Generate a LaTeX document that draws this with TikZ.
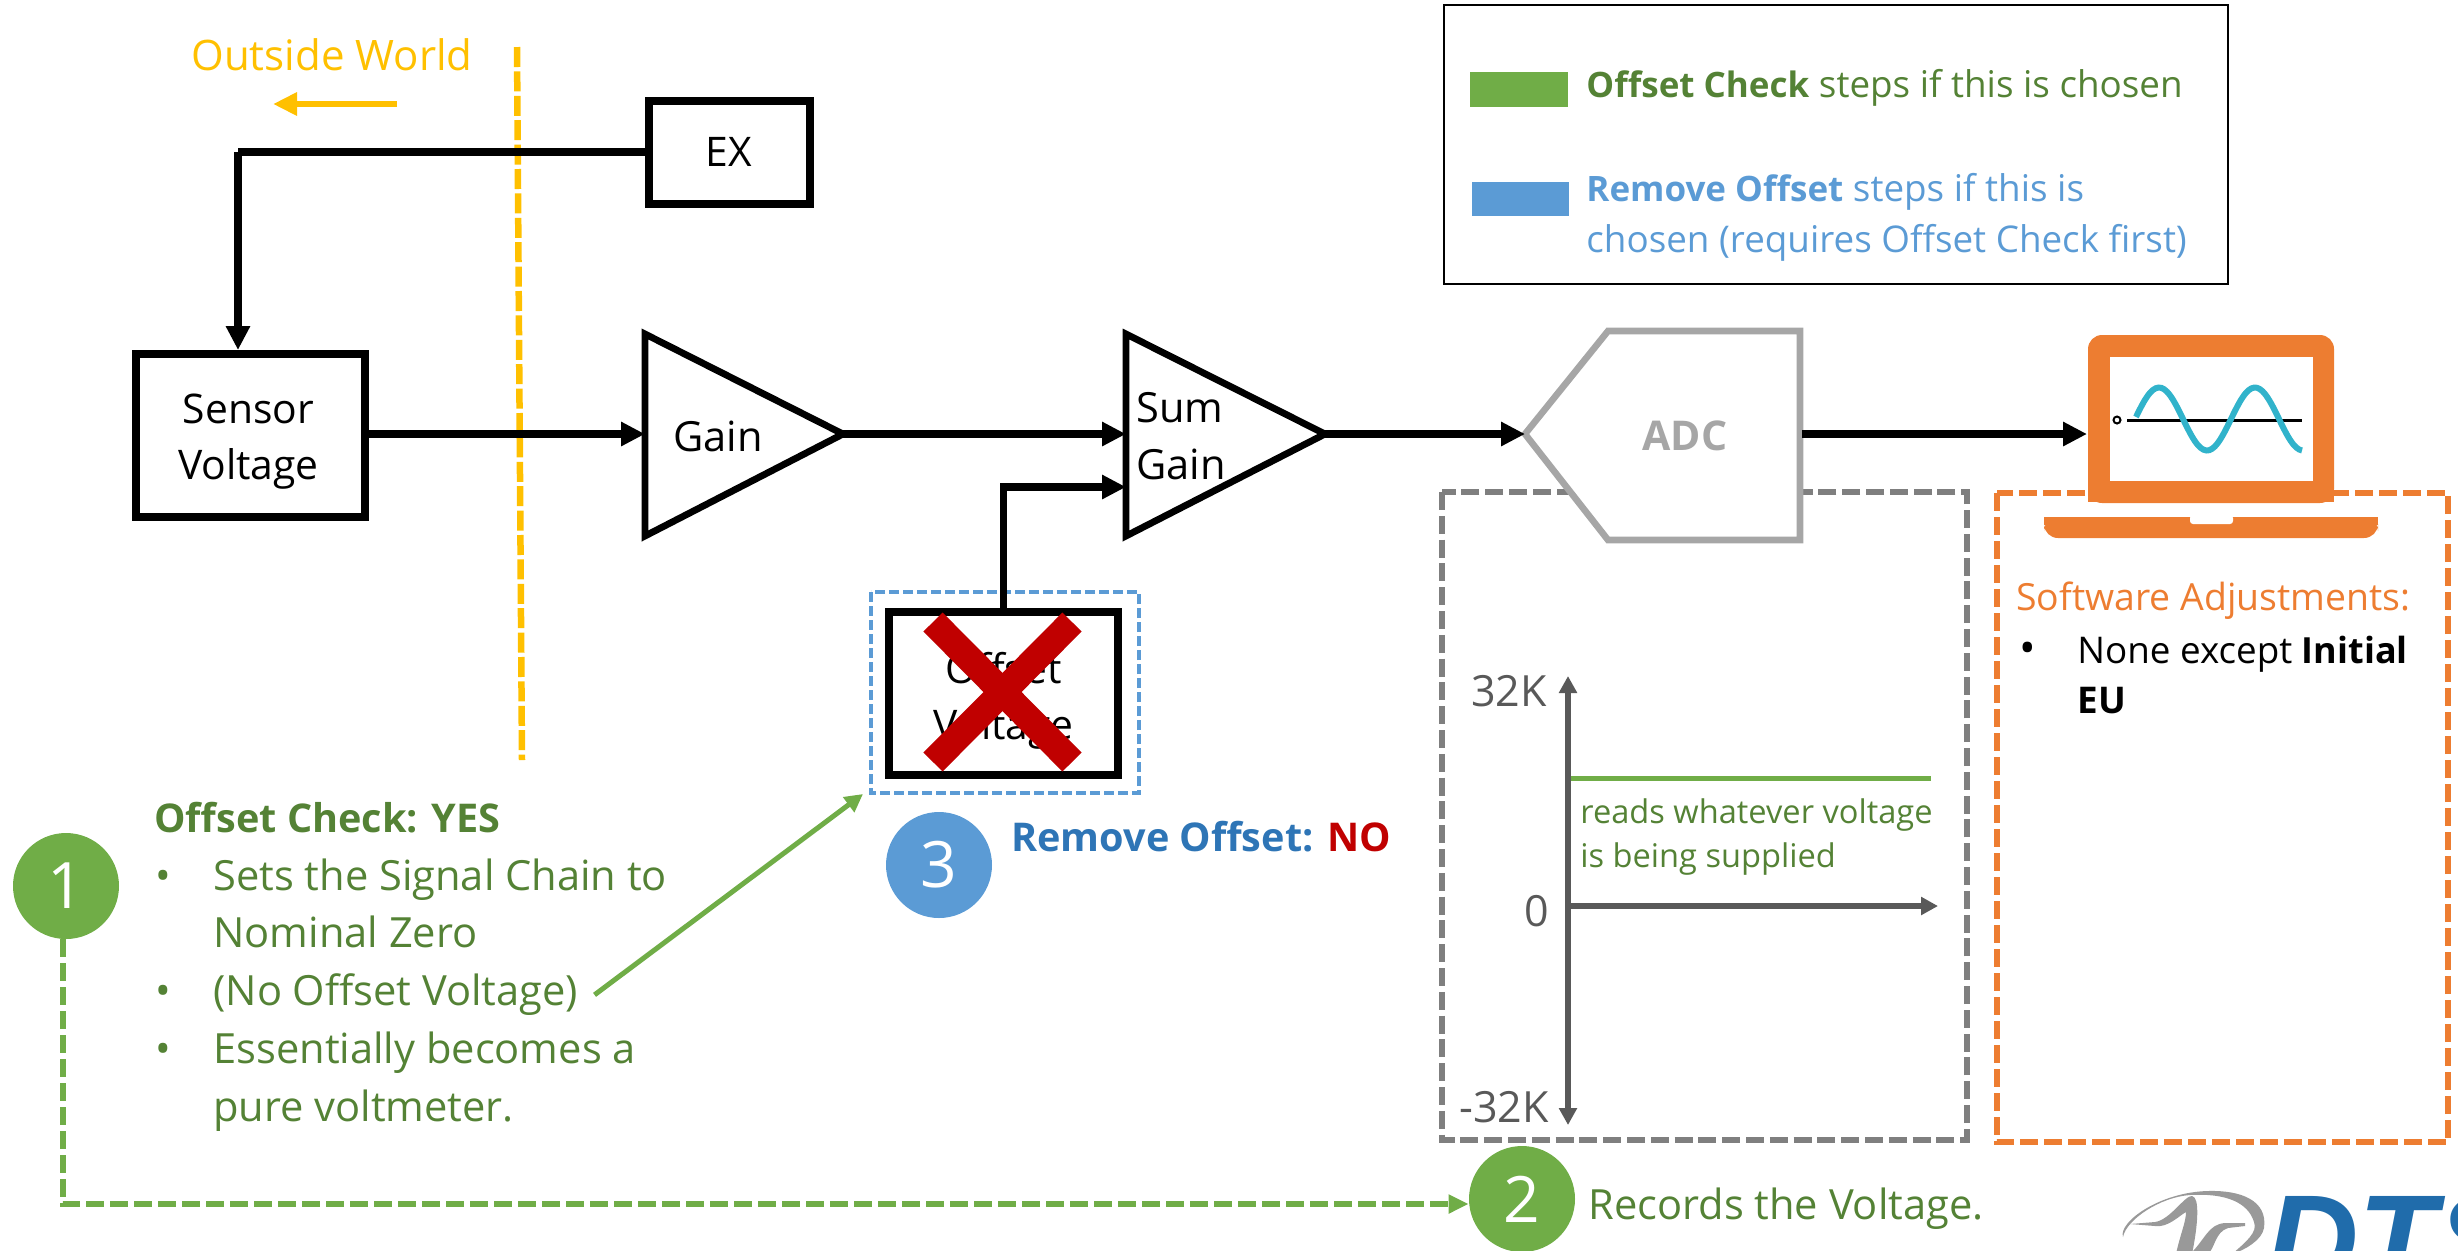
\documentclass[tikz,border=0pt]{standalone}
\usepackage{fontspec}
\setmainfont{Open Sans}
\newfontfamily\logofont{Liberation Sans}
\usetikzlibrary{arrows.meta,calc}
\definecolor{cgreen}{HTML}{70AD47}
\definecolor{dgreen}{HTML}{548235}
\definecolor{cblue}{HTML}{5B9BD5}
\definecolor{dblue}{HTML}{2E75B6}
\definecolor{cred}{HTML}{C00000}
\definecolor{corange}{HTML}{ED7D31}
\definecolor{cyellow}{HTML}{FFC000}
\definecolor{cgray}{HTML}{A6A6A6}
\definecolor{dgray}{HTML}{7F7F7F}
\definecolor{axgray}{HTML}{595959}
\definecolor{cwave}{HTML}{31B3CB}
\definecolor{logoblue}{HTML}{206CAB}
\definecolor{logogray}{HTML}{999999}
\newcommand{\fsz}[1]{\fontsize{#1}{28}\selectfont}
\tikzset{
  x=0.5pt,y=-0.5pt,
  blockbox/.style={draw=black,line width=4pt,fill=white,inner sep=0pt},
  wire/.style={draw=black,line width=3.75pt,-{Triangle[length=12pt,width=11.5pt]}},
  wireplain/.style={draw=black,line width=3.75pt},
  tri/.style={draw=black,line width=3.4pt,fill=white,line join=miter},
  lbl/.style={anchor=mid west,inner sep=0pt,yshift=-4.7pt,font=\fsz{20.8}},
  cbl/.style={anchor=center,inner sep=0pt,align=center,font=\fsz{20.4}},
  badge/.style={circle,fill=#1,minimum size=53pt,inner sep=0pt,text=white,font=\fontsize{32}{32}\selectfont},
  axis/.style={draw=axgray,line width=2.75pt,-{Triangle[length=8.5pt,width=8.7pt]}},
}
\begin{document}
\begin{tikzpicture}
\useasboundingbox (0,0) rectangle (2458,1250);
\clip (0,0) rectangle (2458,1250);

% outside world
\node[cbl,text=cyellow,font=\fsz{21}] (outside) at (332,55) {Outside World};
\coordinate (owa) at (397,104);
\coordinate (owb) at (273,104);
\draw[draw=cyellow,line width=3pt,-{Triangle[length=12pt,width=11pt]}] (owa) -- (owb);
\coordinate (bta) at (517,47);
\coordinate (btb) at (522,760);
\draw[cyellow,line width=3.25pt,dash pattern=on 10pt off 2.2pt] (bta) -- (btb);

% blocks
\node[blockbox,minimum width=80.5pt,minimum height=51.5pt] (ex) at (729,152) {};
\node[cbl] (exlbl) at (ex) {EX};
\node[blockbox,minimum width=114.5pt,minimum height=81.5pt] (sensor) at (250,435.5) {};
\node[cbl] (senlbl) at (248.5,442) {Sensor\\Voltage};

\coordinate (g1) at (645,334); \coordinate (g2) at (645,536); \coordinate (g3) at (843,434);
\draw[tri] (g1) -- (g3) -- (g2) -- cycle;
\coordinate (gin) at (645,434);
\node[lbl] (gainlbl) at (673,437) {Gain};

\coordinate (s1) at (1126,334); \coordinate (s2) at (1126,536); \coordinate (s3) at (1325,434);
\draw[tri] (s1) -- (s3) -- (s2) -- cycle;
\coordinate (sin1) at (1126,434);
\coordinate (sin2) at (1126,487);
\node[lbl] (sumlbl) at (1136,408) {Sum};
\node[lbl] (gain2lbl) at (1136,465) {Gain};

% dashed regions
\draw[dgray,line width=3pt,dash pattern=on 9pt off 2.9pt] (1442,492) rectangle (1967,1140);
\draw[corange,line width=3pt,dash pattern=on 9pt off 3pt] (1997,493) rectangle (2448,1142);

% ADC
\coordinate (a0) at (1525,434);
\coordinate (a1) at (1608,331);
\coordinate (a2) at (1800,331);
\coordinate (a3) at (1800,540);
\coordinate (a4) at (1608,540);
\draw[cgray,line width=3.3pt,fill=white] (a0) -- (a1) -- (a2) -- (a3) -- (a4) -- cycle;
\node[cbl,text=cgray,font=\fsz{20.5}\bfseries] (adc) at (1685,436) {ADC};
\coordinate (aout) at (1802,434);

% laptop
\fill[corange,rounded corners=7pt] (2088,503) -- (2088,335) -- (2334,335) -- (2334,503) -- cycle;
\fill[corange] (2088,480) rectangle (2334,502);
\fill[white] (2110,357) rectangle (2313,481);
\fill[corange,rounded corners=7pt] (2044,517) -- (2378,517) -- (2378,538) -- (2044,538) -- cycle;
\fill[corange] (2044,517) rectangle (2378,525);
\fill[white,rounded corners=1.5pt] (2190,515) -- (2190,524) -- (2233,524) -- (2233,515) -- cycle;
\coordinate (lapin) at (2087,434);
\coordinate (zl) at (2127,420);
\coordinate (zr) at (2302,420);
\draw[black,line width=1.5pt] (zl) -- (zr);
\draw[black,line width=1pt] (2117,420) circle (3.5);
\draw[cwave,line width=3pt] plot[smooth,domain=0:166,samples=60] ({2136+\x},{419-31.5*sin((\x+1)*3.75)});

% connectors
\coordinate (exc) at (238,152);
\draw[wireplain] (ex.west) -- (exc);
\draw[wire] (exc) -- (exc |- sensor.north);
\draw[wire] (sensor.east |- gin) -- (gin);
\draw[wire] (g3) -- (sin1);
\draw[wire] (s3) -- (a0);
\draw[wire] (aout) -- (lapin);

% offset voltage
\draw[cblue,line width=2pt,dash pattern=on 5pt off 2pt] (871,592) rectangle (1139,793);
\node[blockbox,minimum width=114.5pt,minimum height=81.5pt] (offset) at (1003.5,693.5) {};
\node[cbl] (offlbl) at (1003.5,701) {Offset\\Voltage};
\draw[wire] (offset.north) |- (sin2);
\coordinate (xa) at (933,622); \coordinate (xb) at (1072,762);
\coordinate (xc) at (1072,622); \coordinate (xd) at (933,762);
\draw[cred,line width=13.5pt] (xa) -- (xb);
\draw[cred,line width=13.5pt] (xc) -- (xd);

% legend
\node[draw=black,line width=1.25pt,minimum width=392pt,minimum height=139.5pt,inner sep=0pt] (legend) at (1836,144.5) {};
\fill[cgreen] (1470,72) rectangle (1568,107);
\fill[cblue] (1472,182) rectangle (1569,216);
\node[lbl,text=dgreen,font=\fsz{18.4}] (l1) at (1586,83) {\textbf{\fsz{17.5}Offset Check} steps if this is chosen};
\node[lbl,text=cblue,font=\fsz{18.4}] (l2) at (1586,187) {\textbf{\fsz{17.5}Remove Offset} steps if this is};
\node[lbl,text=cblue,font=\fsz{18.4}] (l3) at (1586,238) {chosen (requires Offset Check first)};

% step 1
\node[badge=cgreen] (b1) at (66,886) {1};
\node[lbl,text=dgreen,font=\fsz{19.8}\bfseries] (t0) at (154,818) {Offset Check: YES};
\foreach \yy/\nm in {876/a,991/b,1049/c}{\node[lbl,text=dgreen] (bul\nm) at (155,\yy) {•};}
\node[lbl,text=dgreen] (t1) at (213,876) {Sets the Signal Chain to};
\node[lbl,text=dgreen] (t2) at (213,933) {Nominal Zero};
\node[lbl,text=dgreen] (t3) at (213,991) {(No Offset Voltage)};
\node[lbl,text=dgreen] (t4) at (213,1049) {Essentially becomes a};
\node[lbl,text=dgreen] (t5) at (213,1107) {pure voltmeter.};
\coordinate (arrtip) at (863,794);
\draw[cgreen,line width=2.5pt,-{Triangle[length=9pt,width=9pt]}] ($(t3.east)+(16,0)$) -- (arrtip);

% step 2
\node[badge=cgreen] (b2) at (1522,1199) {2};
\node[lbl,text=dgreen] (t6) at (1588,1205) {Records the Voltage.};
\draw[cgreen,line width=3.25pt,dash pattern=on 9pt off 3pt,-{Triangle[length=10pt,width=9pt]}] (b1.south) ++(-3,0) coordinate (dst) -- (dst |- 0,1204) -- (b2.west |- 0,1204);

% step 3
\node[badge=cblue] (b3) at (939,865) {3};
\node[lbl,font=\fsz{19.8}\bfseries] (t7) at (1011,837) {\textcolor{dblue}{Remove Offset:} \textcolor{cred}{NO}};

% chart
\coordinate (ay) at (1568,906);
\coordinate (ayt) at (1568,676);
\coordinate (ayb) at (1568,1125);
\coordinate (axr) at (1938,906);
\draw[axis] (ay) -- (ayt);
\draw[axis] (ay) -- (ayb);
\draw[axis] (ay) -- (axr);
\coordinate (rl) at (1571,778);
\coordinate (rr) at (1931,778);
\draw[cgreen,line width=2.5pt] (rl) -- (rr);
\node[lbl,anchor=mid east,text=axgray,font=\fsz{21.5}] (k1) at (1547,692) {32K};
\node[lbl,anchor=mid east,text=axgray,font=\fsz{21.5}] (k2) at (1549,912) {0};
\node[lbl,anchor=mid east,text=axgray,font=\fsz{21.5}] (k3) at (1549,1108) {-32K};
\node[lbl,text=dgreen,font=\fsz{16.3}] (r1) at (1580,809) {reads whatever voltage};
\node[lbl,text=dgreen,font=\fsz{16.3}] (r2) at (1580,853) {is being supplied};

% software
\node[lbl,text=corange,font=\fsz{18.7}] (sw) at (2016,596) {Software Adjustments:};
\node[lbl,font=\fsz{22}] (swb) at (2019,649) {•};
\node[lbl,font=\fsz{18.4}] (sw1) at (2077,649) {None except \textbf{\fsz{18}Initial}};
\node[lbl,font=\fsz{18.4}\bfseries] (sw2) at (2077,699) {EU};

% logo
\fill[logogray] (2123,1237) .. controls (2118,1222) and (2160,1192) .. (2208,1191)
  .. controls (2240,1190) and (2268,1200) .. (2264,1228)
  .. controls (2262,1240) and (2245,1250) .. (2232,1254)
  .. controls (2246,1242) and (2258,1232) .. (2254,1222)
  .. controls (2248,1202) and (2225,1193) .. (2190,1195)
  .. controls (2160,1197) and (2126,1220) .. (2123,1237) -- cycle;
\fill[logogray] (2130,1224) -- (2155,1222) .. controls (2170,1220) and (2185,1195) .. (2192,1196)
  .. controls (2200,1197) and (2198,1225) .. (2192,1254) -- (2176,1254)
  .. controls (2180,1235) and (2186,1222) .. (2186,1212)
  .. controls (2180,1215) and (2168,1228) .. (2155,1226) -- cycle;
\fill[logogray] (2190,1254) .. controls (2205,1240) and (2208,1224) .. (2225,1223) -- (2245,1223) -- (2245,1226) -- (2228,1228)
  .. controls (2215,1232) and (2215,1248) .. (2208,1254) -- cycle;
\node[anchor=base west,inner sep=0pt,text=logoblue,font=\logofont\fontsize{64}{64}\selectfont\bfseries\itshape] (dts) at (2266,1284) {DTS};
\end{tikzpicture}
\end{document}
